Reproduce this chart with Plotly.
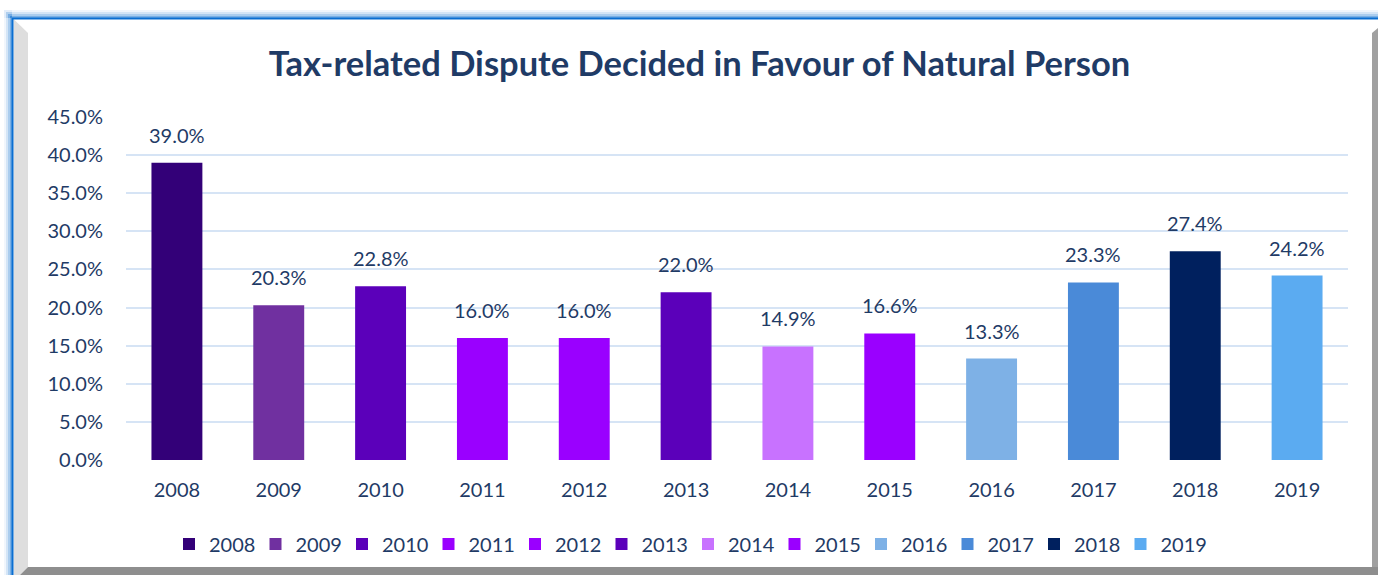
import plotly.graph_objects as go

years = ["2008", "2009", "2010", "2011", "2012", "2013", "2014", "2015", "2016", "2017", "2018", "2019"]
values = [39.0, 20.3, 22.8, 16.0, 16.0, 22.0, 14.9, 16.6, 13.3, 23.3, 27.4, 24.2]
colors = ["#330078", "#7030A0", "#5B00BA", "#9A00FF", "#9A00FF", "#5B00BA",
          "#C872FF", "#9A00FF", "#7EB1E6", "#4A8AD8", "#00205E", "#5BABF1"]
y_ticks = [0, 5, 10, 15, 20, 25, 30, 35, 40, 45]
title_text = "Tax-related Dispute Decided in Favour of Natural Person"

TXT = "#1F3B66"
FONT = "Lato"
W, H = 1378, 575
L, R, T, B = 126, 30, 117, 115
PW, PH = W - L - R, H - T - B


def px(x):
    return (x - L) / PW


def py(y):
    return (H - B - y) / PH


fig = go.Figure()
for yr, v, c in zip(years, values, colors):
    fig.add_trace(go.Bar(x=[yr], y=[v], name=yr, marker=dict(color=c, line=dict(width=0)),
                         width=0.5, hoverinfo="skip"))

annotations = []
for i, v in enumerate(values):
    annotations.append(dict(x=i, y=v, xref="x", yref="y", text=f"{v:.1f}%", showarrow=False,
                            yanchor="bottom", yshift=14, font=dict(family=FONT, size=20, color=TXT)))

shapes = []
# outer glow (left and top)
glow = ["rgba(10,110,209,0.06)", "rgba(10,110,209,0.12)", "rgba(10,110,209,0.2)", "rgba(10,110,209,0.3)"]
for i, g in enumerate(glow):
    off = 8 - 2 * i
    shapes.append(dict(type="rect", xref="paper", yref="paper", x0=px(12 - off), x1=px(12),
                       y0=py(575), y1=py(18 - off), fillcolor=g, line=dict(width=0), layer="below"))
    shapes.append(dict(type="rect", xref="paper", yref="paper", x0=px(12 - off), x1=px(1378),
                       y0=py(18), y1=py(18 - off), fillcolor=g, line=dict(width=0), layer="below"))
# left bevel strip
shapes.append(dict(type="path", xref="paper", yref="paper",
                   path=f"M{px(13.5)},{py(19)} L{px(28)},{py(33)} L{px(28)},{py(567)} L{px(20)},{py(575)} L{px(13.5)},{py(575)} Z",
                   fillcolor="#DEDEDE", line=dict(width=0), layer="below"))
# bottom shadow
shapes.append(dict(type="path", xref="paper", yref="paper",
                   path=f"M{px(20)},{py(575)} L{px(28)},{py(567)} L{px(1378)},{py(567)} L{px(1378)},{py(575)} Z",
                   fillcolor="#8E8E8E", line=dict(width=0), layer="below"))
# right shadow
shapes.append(dict(type="path", xref="paper", yref="paper",
                   path=f"M{px(1372)},{py(33)} L{px(1378)},{py(28)} L{px(1378)},{py(567)} L{px(1372)},{py(567)} Z",
                   fillcolor="#A0A0A0", line=dict(width=0), layer="below"))
# blue border lines
shapes.append(dict(type="line", xref="paper", yref="paper", x0=px(12.5), x1=px(12.5), y0=py(18), y1=py(575),
                   line=dict(color="#0A6ED1", width=2), layer="below"))
shapes.append(dict(type="line", xref="paper", yref="paper", x0=px(12), x1=px(1378), y0=py(18.5), y1=py(18.5),
                   line=dict(color="#0A6ED1", width=2), layer="below"))

fig.update_layout(
    width=W, height=H,
    margin=dict(l=L, r=R, t=T, b=B, autoexpand=False),
    paper_bgcolor="white", plot_bgcolor="white",
    title=dict(text=f"<b>{title_text}</b>", x=699.5 / W, xref="container", xanchor="center",
               y=1 - 64 / H, yref="container", yanchor="middle",
               font=dict(family=FONT, size=34.5, color=TXT)),
    barmode="overlay",
    showlegend=True,
    legend=dict(orientation="h", x=px(169), xanchor="left", y=py(544), yanchor="middle",
                entrywidth=41.5, entrywidthmode="pixels", font=dict(family=FONT, size=20, color=TXT),
                bgcolor="rgba(0,0,0,0)", traceorder="normal", itemclick=False),
    xaxis=dict(type="category", categoryorder="array", categoryarray=years, showgrid=False,
               showline=False, zeroline=False, ticks="outside", ticklen=12, tickcolor="rgba(0,0,0,0)",
               tickfont=dict(family=FONT, size=20, color=TXT), fixedrange=True),
    yaxis=dict(range=[0, 45], tickvals=y_ticks, ticktext=[f"{v:.1f}%" for v in y_ticks],
               showgrid=True, gridcolor="#D6E4F5", gridwidth=2, zeroline=False, showline=False,
               ticks="outside", ticklen=18, tickcolor="rgba(0,0,0,0)",
               tickfont=dict(family=FONT, size=20, color=TXT), fixedrange=True),
    annotations=annotations,
    shapes=shapes,
)

fig.write_html("out.html", config={"displayModeBar": False},
               post_script="document.body.style.margin='0';document.body.style.overflow='hidden';")
